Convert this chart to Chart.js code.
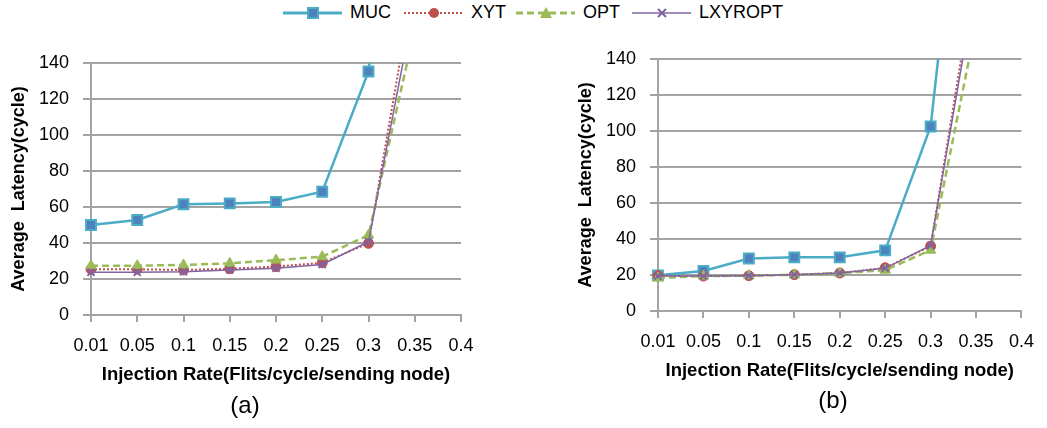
<!DOCTYPE html>
<html>
<head>
<meta charset="utf-8">
<title>Average latency vs injection rate</title>
<script src="https://cdn.jsdelivr.net/npm/chart.js@4.4.1/dist/chart.umd.min.js"></script>
<style>
    body {
        margin: 0;
        width: 1047px;
        height: 428px;
        background: #fff;
        position: relative;
        overflow: hidden;
        font-family: "Liberation Sans", Arial, sans-serif;
        color: #000;
    }
    canvas { position: absolute; }
    #chartA { left: 0; top: 30px; }
    #chartB { left: 567px; top: 26px; }
    .legend-item {
        position: absolute;
        top: 0;
        height: 25px;
        display: flex;
        align-items: center;
        font-size: 18px;
    }
    .legend-item svg { margin-right: 8px; }
    .caption {
        position: absolute;
        font-size: 24px;
        transform: translate(-50%, -50%);
    }
</style>
</head>
<body>

<div class="legend-item" style="left:283px">
    <svg width="59" height="14"><line x1="0" y1="7" x2="59" y2="7" stroke="#4bacc6" stroke-width="3"/><rect x="25" y="2" width="10" height="10" fill="#4f81bd" stroke="#4bacc6" stroke-width="2"/></svg>MUC
</div>
<div class="legend-item" style="left:404px">
    <svg width="59" height="14"><line x1="0" y1="7" x2="59" y2="7" stroke="#c0504d" stroke-width="2" stroke-dasharray="2,2"/><circle cx="30" cy="7" r="5" fill="#c0504d"/></svg>XYT
</div>
<div class="legend-item" style="left:516px">
    <svg width="59" height="14"><line x1="0" y1="7" x2="59" y2="7" stroke="#9bbb59" stroke-width="3" stroke-dasharray="7,4"/><polygon points="30,1 36,12 24,12" fill="#9bbb59"/></svg>OPT
</div>
<div class="legend-item" style="left:632px">
    <svg width="59" height="14"><line x1="0" y1="7" x2="59" y2="7" stroke="#8064a2" stroke-width="1.5"/><path d="M26 3 L34 11 M34 3 L26 11" stroke="#8064a2" stroke-width="2"/></svg>LXYROPT
</div>

<canvas id="chartA" width="520" height="398"></canvas>
<canvas id="chartB" width="480" height="398"></canvas>

<div class="caption" style="left:245px; top:405px">(a)</div>
<div class="caption" style="left:833px; top:400px">(b)</div>

<script>
// x categories (injection rate)
const injectionRates = ['0.01', '0.05', '0.1', '0.15', '0.2', '0.25', '0.3', '0.35', '0.4'];

// y axis
const latencyMax = 140;
const latencyStep = 20;

// panel (a) - values past 140 are cut off by the plot area
const mucA = [50, 52.8, 61.5, 62, 62.8, 68.5, 135.3, 350, null];
const xytA = [25.4, 25.4, 25, 25.7, 26.9, 29, 39.8, 188, null];
const optA = [27.4, 27.4, 27.8, 28.7, 30.5, 32.4, 44.4, 159, null];
const lxyroptA = [23.7, 23.7, 24, 25, 26, 28.1, 40.7, 174, null];

// panel (b)
const mucB = [19.8, 22.2, 29.2, 29.8, 29.8, 33.7, 102.5, 329, null];
const xytB = [19.6, 19.4, 19.6, 20.2, 21.1, 24, 36, 191, null];
const optB = [18.3, 19.4, 19.6, 20.1, 21, 22.7, 33.8, 159, null];
const lxyroptB = [19.4, 19.4, 19.6, 20.2, 21.1, 23.7, 36.4, 183, null];

const gridColor = '#a3a3a3';
const fontFamily = '"Liberation Sans", Arial, sans-serif';

function buildDatasets(muc, xyt, opt, lxy) {
    return [
        {
            label: 'MUC', data: muc, order: 4,
            borderColor: '#4bacc6', borderWidth: 2.5,
            pointStyle: 'rect', pointRadius: 7,
            pointBackgroundColor: '#4f81bd', pointBorderColor: '#4bacc6', pointBorderWidth: 2
        },
        {
            label: 'XYT', data: xyt, order: 3,
            borderColor: '#c0504d', borderWidth: 2, borderDash: [2, 2],
            pointStyle: 'circle', pointRadius: 5,
            pointBackgroundColor: '#c0504d', pointBorderColor: '#c0504d', pointBorderWidth: 1
        },
        {
            label: 'OPT', data: opt, order: 2,
            borderColor: '#9bbb59', borderWidth: 2.5, borderDash: [7, 4],
            pointStyle: 'triangle', pointRadius: 6,
            pointBackgroundColor: '#9bbb59', pointBorderColor: '#9bbb59', pointBorderWidth: 1
        },
        {
            label: 'LXYROPT', data: lxy, order: 1,
            borderColor: '#8064a2', borderWidth: 1.5,
            pointStyle: 'crossRot', pointRadius: 5,
            pointBackgroundColor: '#8064a2', pointBorderColor: '#8064a2', pointBorderWidth: 2
        }
    ];
}

function buildOptions(xTitle, rightPad) {
    return {
        responsive: false,
        animation: false,
        devicePixelRatio: 1,
        layout: { padding: { top: 33, right: rightPad, bottom: 42, left: 0 } },
        plugins: {
            legend: { display: false },
            tooltip: { enabled: false }
        },
        elements: { line: { tension: 0, fill: false } },
        scales: {
            x: {
                type: 'category',
                offset: false,
                grid: {
                    display: true, drawOnChartArea: false, drawTicks: true,
                    tickLength: 7, color: gridColor, lineWidth: 2
                },
                border: { display: true, color: gridColor, width: 2 },
                ticks: {
                    color: '#000', padding: 13, maxRotation: 0, autoSkip: false,
                    font: { family: fontFamily, size: 18 }
                },
                title: {
                    display: true, text: xTitle, color: '#000',
                    padding: { top: 0, bottom: 0 },
                    font: { family: fontFamily, size: 18.5, weight: 'bold' }
                },
                afterFit: scale => { scale.height = 71; }
            },
            y: {
                min: 0,
                max: latencyMax,
                ticks: {
                    stepSize: latencyStep, color: '#000', padding: 14,
                    font: { family: fontFamily, size: 18 }
                },
                grid: { color: gridColor, lineWidth: 2, tickLength: 8, drawTicks: true },
                border: { display: true, color: gridColor, width: 2 },
                title: {
                    display: true, text: 'Average  Latency(cycle)', color: '#000',
                    padding: { top: 8, bottom: 0 },
                    font: { family: fontFamily, size: 18, weight: 'bold' }
                },
                afterFit: scale => { scale.width = 91; }
            }
        }
    };
}

new Chart(document.getElementById('chartA'), {
    type: 'line',
    data: { labels: injectionRates, datasets: buildDatasets(mucA, xytA, optA, lxyroptA) },
    options: buildOptions('Injection Rate(Flits/cycle/sending node)', 59)
});

new Chart(document.getElementById('chartB'), {
    type: 'line',
    data: { labels: injectionRates, datasets: buildDatasets(mucB, xytB, optB, lxyroptB) },
    options: buildOptions('Injection Rate(Flits/cycle/sending node)', 19)
});
</script>
</body>
</html>
